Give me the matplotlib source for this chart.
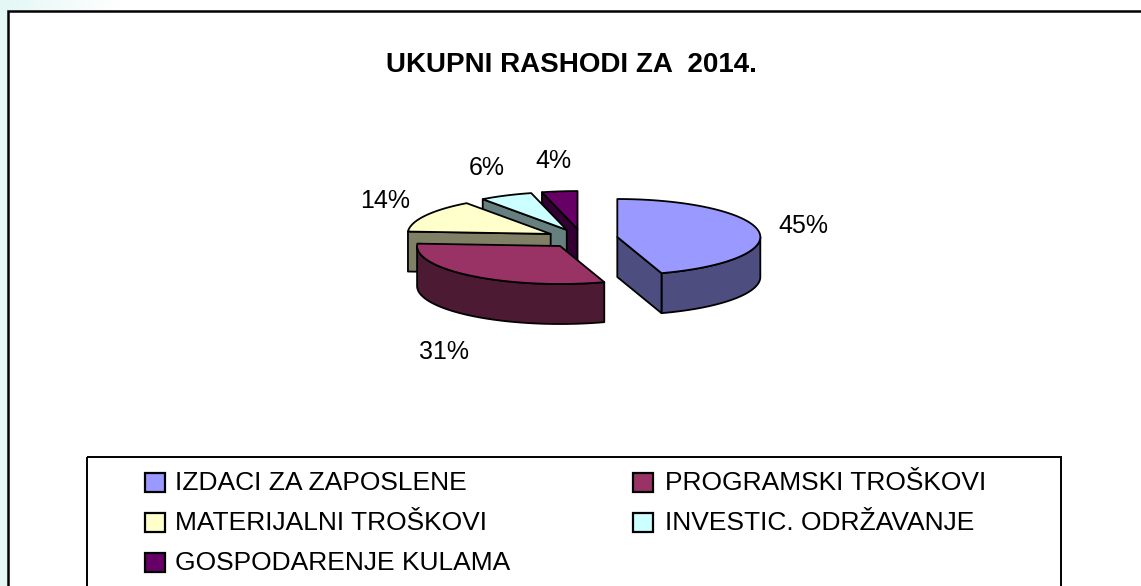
import numpy as np
import matplotlib.pyplot as plt
from matplotlib.patches import Polygon, Rectangle

categories = ['IZDACI ZA ZAPOSLENE', 'PROGRAMSKI TROŠKOVI', 'MATERIJALNI TROŠKOVI',
              'INVESTIC. ODRŽAVANJE', 'GOSPODARENJE KULAMA']
shares = [45, 31, 14, 6, 4]
top_colors = ['#9999ff', '#993366', '#ffffcc', '#ccffff', '#660066']
side_colors = ['#4d4d80', '#4d1a33', '#808066', '#668080', '#330033']

W, H = 1141, 586
fig = plt.figure(figsize=(W / 100, H / 100), dpi=100)
ax = fig.add_axes([0, 0, 1, 1])
ax.set_xlim(0, W)
ax.set_ylim(H, 0)
ax.axis('off')

# light strips left / top, then white chart area with frame
ax.add_patch(Rectangle((0, 0), 8, H, fc='#e4f7f5', ec='none'))
grad = np.ones((1, 120, 4))
grad[0, :, 0] = np.linspace(0.89, 1.0, 120)
grad[0, :, 1] = np.linspace(0.97, 1.0, 120)
grad[0, :, 2] = np.linspace(0.96, 1.0, 120)
ax.imshow(grad, extent=[0, 120, 10, 0], aspect='auto', zorder=0)
ax.add_patch(Rectangle((8, 10.5), W, H, fc='white', ec='black', lw=1.8, clip_on=False))

ax.text(571, 65.5, 'UKUPNI RASHODI ZA  2014.', ha='center', va='center',
        fontsize=20, fontweight='bold', family='Liberation Sans')

# exploded 3d pie
cx, cy = 582, 238.5
rx, ry = 143, 38
depth = 40
explode = 0.25


def rim(x0, y0, a):
    return x0 + rx * np.sin(a), y0 - ry * np.cos(a)


bounds = np.concatenate([[0], np.cumsum(shares)]) / sum(shares) * 2 * np.pi

slices = []
for i in range(len(shares)):
    a1, a2 = bounds[i], bounds[i + 1]
    m = (a1 + a2) / 2
    px, py = rim(cx, cy, m)
    px = cx + explode * (px - cx)
    py = cy + explode * (py - cy)
    slices.append((py, i, a1, a2, m, px))

for py, i, a1, a2, m, px in sorted(slices):
    lo, hi = max(a1, np.pi / 2), min(a2, 3 * np.pi / 2)
    if hi > lo:
        t = np.linspace(lo, hi, 200)
        wx, wy = rim(px, py, t)
        poly = np.column_stack([np.concatenate([wx, wx[::-1]]),
                                np.concatenate([wy, wy[::-1] + depth])])
        ax.add_patch(Polygon(poly, fc=side_colors[i], ec='black', lw=1.3, joinstyle='round'))
    for a, show in ((a1, np.sin(a1) < -1e-6), (a2, np.sin(a2) > 1e-6)):
        if show:
            ex, ey = rim(px, py, a)
            poly = [(px, py), (ex, ey), (ex, ey + depth), (px, py + depth)]
            ax.add_patch(Polygon(poly, fc=side_colors[i], ec='black', lw=1.3, joinstyle='round'))
    arc = np.linspace(a1, a2, 200)
    ex, ey = rim(px, py, arc)
    top = np.column_stack([np.concatenate([[px], ex]), np.concatenate([[py], ey])])
    ax.add_patch(Polygon(top, fc=top_colors[i], ec='black', lw=1.3, joinstyle='round'))

    lx = px + 1.32 * rx * np.sin(m)
    ly = py - 1.8 * ry * np.cos(m) + (1.3 * depth if np.cos(m) < 0 else 0)
    ax.text(lx, ly, f'{shares[i]}%', ha='center', va='center', fontsize=18,
            family='Liberation Sans')

# legend box
ax.add_patch(Rectangle((87, 457), 974, 200, fc='none', ec='black', lw=1.4, clip_on=False))
for i, name in enumerate(categories):
    row, col = i // 2, i % 2
    yc = 482.5 + 40 * row
    mx = [145, 633][col]
    ax.add_patch(Rectangle((mx, yc - 9.5), 20, 19, fc=top_colors[i], ec='black', lw=1.6))
    ax.text([175, 665][col], yc + 1, name, ha='left', va='center', fontsize=19,
            family='Liberation Sans')

fig.savefig('out.png', dpi=100)
